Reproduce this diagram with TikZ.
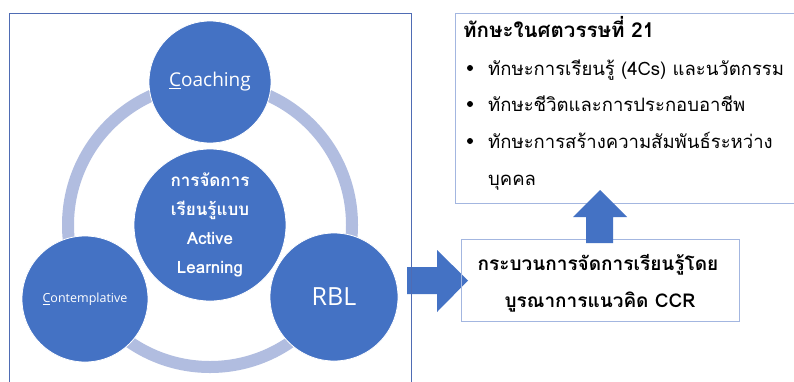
\documentclass[tikz,border=0pt]{standalone}
\usepackage{fontspec}
\newfontfamily\thai[Script=Thai]{Loma}
\newfontfamily\lat{Open Sans}
\definecolor{cblue}{HTML}{4472C4}
\definecolor{ringc}{HTML}{B1BDE0}
\definecolor{lboxc}{HTML}{4F6CB4}
\definecolor{rboxc}{HTML}{A3B6E0}
\tikzset{
  bigcirc/.style={circle, fill=cblue, draw=white, line width=0.8pt, inner sep=0pt, text=white, align=center},
  framebox/.style={draw=rboxc, line width=1pt},
  blockarrow/.style={fill=cblue},
  txt/.style={inner sep=0pt, anchor=base west, text=black, font=\thai\fontsize{18.5}{22}\selectfont},
  btxt/.style={inner sep=0pt, text=black, font=\thai\bfseries\fontsize{19}{22}\selectfont}
}
\begin{document}
\begin{tikzpicture}[x=1pt,y=-1pt]
\useasboundingbox (0,0) rectangle (794,381);
\fill[white] (0,0) rectangle (794,381);
% ring
\draw[ringc, line width=12pt] (210,225) circle[radius=142pt];
% circles
\node[bigcirc, minimum size=122pt, font=\lat\fontsize{19}{22}\selectfont] (coach) at (210,82) {\underline{C}oaching};
\node[bigcirc, minimum size=152pt, font=\thai\bfseries\fontsize{17}{29}\selectfont] (center) at (210,225) {การจัดการ\\เรียนรู้แบบ\\Active\\Learning};
\node[bigcirc, minimum size=126pt, font=\lat\fontsize{12.5}{15}\selectfont] (contem) at (85,299) {\underline{C}ontemplative};
\node[bigcirc, minimum size=128pt, font=\lat\fontsize{25}{30}\selectfont] (rbl) at (334,297) {RBL};
% right block arrow
\fill[blockarrow] (407,267) -- (437,267) -- (437,250) -- (468,280.5) -- (437,312) -- (437,294) -- (407,294) -- cycle;
% left frame
\draw[draw=lboxc, line width=1pt] (9,13) rectangle (411,395);
% top right box
\node[draw=rboxc, line width=1pt, minimum width=341pt, minimum height=190pt, anchor=north west, inner sep=0pt] (skills) at (455,13) {};
\node[btxt, anchor=base west, font=\thai\bfseries\fontsize{20.5}{22}\selectfont] (title) at (463,37) {ทักษะในศตวรรษที่ 21};
\fill (470,68) circle[radius=3pt];
\fill (470,104) circle[radius=3pt];
\fill (470,141) circle[radius=3pt];
\node[txt] (b1) at (488,75) {ทักษะการเรียนรู้ (4Cs) และนวัตกรรม};
\node[txt] (b2) at (488,111) {ทักษะชีวิตและการประกอบอาชีพ};
\node[txt] (b3) at (488,148) {ทักษะการสร้างความสัมพันธ์ระหว่าง};
\node[txt] (b4) at (488,185) {บุคคล};
% lower box
\node[framebox, minimum width=278pt, minimum height=82pt, inner sep=0pt] (ccr) at (600,280) {};
\node[btxt, anchor=base] (l1) at (598,270) {กระบวนการจัดการเรียนรู้โดย};
\node[btxt, anchor=base] (l2) at (600,307) {บูรณาการแนวคิด CCR};
% up block arrow
\fill[blockarrow] (586,243) -- (586,217) -- (573,217) -- (600,190) -- (627,217) -- (613,217) -- (613,243) -- cycle;
\end{tikzpicture}
\end{document}
